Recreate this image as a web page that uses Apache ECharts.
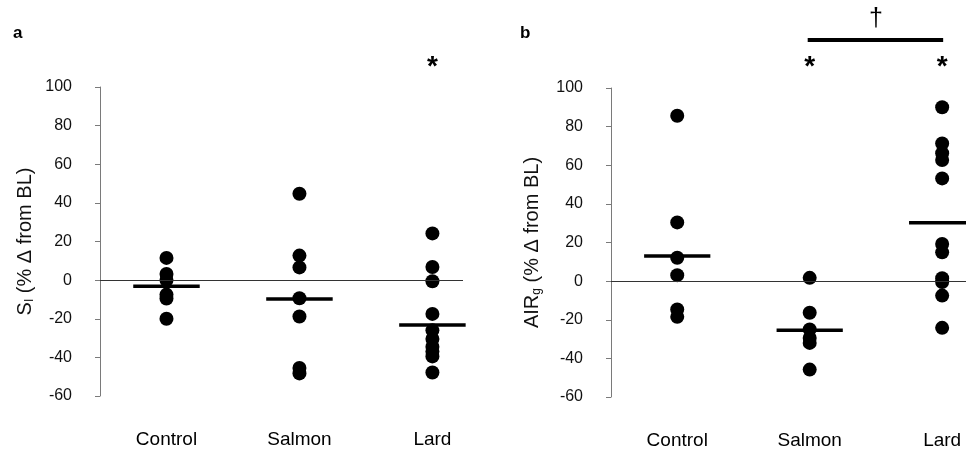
<!DOCTYPE html>
<html>
<head>
<meta charset="utf-8">
<script src="https://cdn.jsdelivr.net/npm/echarts@6/dist/echarts.min.js"></script>
<style>
  html, body { margin: 0; padding: 0; background: #fff; }
  #chart { width: 966px; height: 456px; }
</style>
</head>
<body>
<div id="chart"></div>
<script>
// groups on the x axis (positions 1, 2, 3)
const groups = ['Control', 'Salmon', 'Lard'];

// panel a: S_I (% change from baseline)
const siControl = [11.5, 3.2, 0.1, -7.5, -9.5, -20];
const siSalmon = [44.7, 12.7, 6.6, -9.4, -18.8, -45.5, -48.3];
const siLard = [24.2, 6.8, -0.6, -17.5, -26, -30.5, -34.5, -37, -39.5, -47.8];
const siMeans = [-3.2, -9.8, -23.2];

// panel b: AIR_g (% change from baseline)
const airControl = [85.6, 30.4, 12.1, 3.1, -14.7, -18.5];
const airSalmon = [1.7, -16.4, -25, -29.4, -32, -45.8];
const airLard = [90, 71.3, 66.2, 62.7, 53.2, 19.2, 14.9, 1.5, -0.5, -7.5, -24.2];
const airMeans = [13, -25.4, 30.2];

const FONT = 'Liberation Sans, Arial, sans-serif';
const HALF = 0.25; // half width of the mean bars, in group units

let myChart = echarts.init(document.getElementById('chart'));

function xAxisFor(gridIndex, max) {
    return {
        type: 'value',
        gridIndex: gridIndex,
        min: 0.5,
        max: max,
        splitLine: { show: false },
        axisLine: { show: false, onZero: false },
        axisTick: { show: false },
        axisLabel: {
            customValues: [1, 2, 3],
            formatter: v => groups[Math.round(v) - 1] || '',
            margin: 34,
            fontSize: 19,
            color: '#000',
            fontFamily: FONT
        }
    };
}

function yAxisFor(gridIndex, name, nameGap) {
    return {
        type: 'value',
        gridIndex: gridIndex,
        min: -60,
        max: 100,
        interval: 20,
        splitLine: { show: false },
        axisLine: { show: true, lineStyle: { color: '#7a7a7a', width: 1 } },
        axisTick: { show: true, length: 5, lineStyle: { color: '#7a7a7a' } },
        axisLabel: { fontSize: 16, color: '#111', margin: 28, fontFamily: FONT },
        name: name,
        nameLocation: 'middle',
        nameGap: nameGap,
        nameTextStyle: {
            fontFamily: FONT,
            color: '#111',
            rich: {
                m: { fontSize: 20, fontFamily: FONT, color: '#111', lineHeight: 24 },
                s: { fontSize: 12, fontFamily: FONT, color: '#111', lineHeight: 24, padding: [10, 0, 0, 0] }
            }
        }
    };
}

function groupSeries(gridIndex, groupNo, values, withZero) {
    const s = {
        type: 'scatter',
        xAxisIndex: gridIndex,
        yAxisIndex: gridIndex,
        symbol: 'circle',
        symbolSize: 14,
        itemStyle: { color: '#000', opacity: 1 },
        silent: true,
        data: values.map(v => [groupNo, v])
    };
    if (withZero) {
        s.markLine = {
            silent: true,
            symbol: 'none',
            label: { show: false },
            lineStyle: { type: 'solid', color: '#333', width: 1 },
            data: [{ yAxis: 0 }]
        };
    }
    return s;
}

// short horizontal bars at the group means
function meanSeries(gridIndex, means) {
    return {
        type: 'custom',
        xAxisIndex: gridIndex,
        yAxisIndex: gridIndex,
        clip: false,
        silent: true,
        z: 5,
        data: means.map((m, i) => [i + 1, m]),
        renderItem: (params, api) => {
            const g = api.value(0), m = api.value(1);
            const p1 = api.coord([g - HALF, m]);
            const p2 = api.coord([g + HALF, m]);
            return {
                type: 'line',
                shape: { x1: p1[0], y1: p1[1], x2: p2[0], y2: p2[1] },
                style: { stroke: '#000', lineWidth: 3.5 }
            };
        }
    };
}

myChart.setOption({
    animation: false,
    backgroundColor: '#fff',
    grid: [
        { left: 100, top: 87, width: 363, height: 309 },
        { left: 611, top: 88, width: 355, height: 309 }
    ],
    xAxis: [xAxisFor(0, 3.23), xAxisFor(1, 3.18)],
    yAxis: [
        yAxisFor(0, '{m|S}{s|I}{m| (% Δ from BL)}', 63),
        yAxisFor(1, '{m|AIR}{s|g}{m| (% Δ from BL)}', 67)
    ],
    series: [
        groupSeries(0, 1, siControl, true),
        groupSeries(0, 2, siSalmon, false),
        groupSeries(0, 3, siLard, false),
        meanSeries(0, siMeans),
        groupSeries(1, 1, airControl, true),
        groupSeries(1, 2, airSalmon, false),
        groupSeries(1, 3, airLard, false),
        meanSeries(1, airMeans)
    ]
});

// annotations placed above the groups they belong to
const px = (g, cat) => myChart.convertToPixel({ gridIndex: g }, [cat, 0])[0];
const star = (x) => ({
    type: 'text', x: x, y: 67,
    style: { text: '*', font: 'bold 28px ' + FONT, fill: '#000', align: 'center', verticalAlign: 'middle' }
});
const bx1 = px(1, 2), bx2 = px(1, 3);

myChart.setOption({
    graphic: [
        { type: 'text', x: 13, y: 33, style: { text: 'a', font: 'bold 17px ' + FONT, fill: '#000', verticalAlign: 'middle' } },
        { type: 'text', x: 520, y: 33, style: { text: 'b', font: 'bold 17px ' + FONT, fill: '#000', verticalAlign: 'middle' } },
        star(px(0, 3)),
        star(bx1),
        star(bx2),
        { type: 'rect', shape: { x: bx1 - 2, y: 38, width: bx2 - bx1 + 3, height: 4 }, style: { fill: '#000' } },
        { type: 'text', x: (bx1 + bx2) / 2, y: 19, style: { text: '†', font: '25px ' + FONT, fill: '#000', align: 'center', verticalAlign: 'middle' } }
    ]
});
</script>
</body>
</html>
